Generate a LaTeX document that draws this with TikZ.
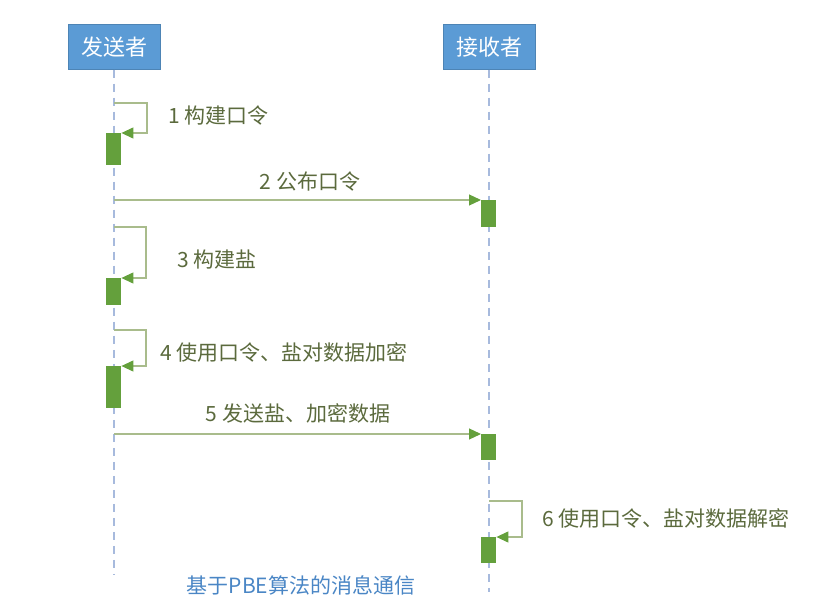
\documentclass[tikz,border=0pt]{standalone}
\usepackage{fontspec}
\setmainfont{Noto Sans CJK SC}
\usetikzlibrary{arrows.meta}

\definecolor{headblue}{HTML}{5B9BD5}
\definecolor{bargreen}{HTML}{64A03C}
\definecolor{msgline}{HTML}{A9BC8C}
\definecolor{msgtext}{HTML}{5B6A3D}
\definecolor{lifeblue}{HTML}{A7BADD}
\definecolor{captionblue}{HTML}{4A86C5}

\tikzset{
  head/.style={rectangle, fill=headblue, draw=headblue!85!black, line width=0.5pt, minimum width=92pt, minimum height=45pt, text=white, font=\fontsize{22}{26}\selectfont},
  lifeline/.style={draw=lifeblue, line width=1.2pt, dash pattern=on 8pt off 6pt},
  bar/.style={rectangle, fill=bargreen, inner sep=0pt, minimum width=15pt, anchor=north west},
  msg/.style={draw=msgline, line width=1.2pt, -{Triangle[length=12pt,width=11pt,fill=bargreen,color=bargreen]}},
  msglabel/.style={text=msgtext, inner sep=0pt, font=\fontsize{21}{25}\selectfont},
}

\begin{document}
\begin{tikzpicture}[x=1pt,y=-1pt]
\useasboundingbox (0,0) rectangle (824,601);

% heads and lifelines
\node (sender) [head] at (114,47) {发送者};
\node (receiver) [head] at (489,47) {接收者};
\coordinate (senderEnd) at (114,575);
\coordinate (receiverEnd) at (489,592);
\draw [lifeline] (sender.south) -- (senderEnd);
\draw [lifeline] (receiver.south) -- (receiverEnd);

% activation bars
\node (barS1) [bar, minimum height=32pt] at (106,133) {};
\node (barR2) [bar, minimum height=27pt] at (481,200) {};
\node (barS3) [bar, minimum height=27pt] at (106,278) {};
\node (barS4) [bar, minimum height=42pt] at (106,366) {};
\node (barR5) [bar, minimum height=26pt] at (481,434) {};
\node (barR6) [bar, minimum height=26pt] at (481,537) {};

% points on the lifelines
\coordinate (s1) at (114,103);
\coordinate (s2) at (114,200);
\coordinate (s3) at (114,227);
\coordinate (s4) at (114,330);
\coordinate (s5) at (114,434);
\coordinate (r6) at (489,501);

% messages
\draw [msg] (s1) -- ++(33,0) |- (barS1.north east);
\node (lab1) [msglabel, anchor=west] at (168,116) {1 构建口令};

\draw [msg] (s2) -- (barR2.north west);
\node (lab2) [msglabel] at (310,182) {2 公布口令};

\draw [msg] (s3) -- ++(32,0) |- (barS3.north east);
\node (lab3) [msglabel, anchor=west] at (177,260) {3 构建盐};

\draw [msg] (s4) -- ++(32,0) |- (barS4.north east);
\node (lab4) [msglabel, anchor=west] at (160,352) {4 使用口令、盐对数据加密};

\draw [msg] (s5) -- (barR5.north west);
\node (lab5) [msglabel] at (298,413) {5 发送盐、加密数据};

\draw [msg] (r6) -- ++(33,0) |- (barR6.north east);
\node (lab6) [msglabel, anchor=west] at (542,518) {6 使用口令、盐对数据解密};

% caption
\node (caption) [text=captionblue, font=\fontsize{21}{24}\selectfont] at (301,585) {基于PBE算法的消息通信};
\end{tikzpicture}
\end{document}
